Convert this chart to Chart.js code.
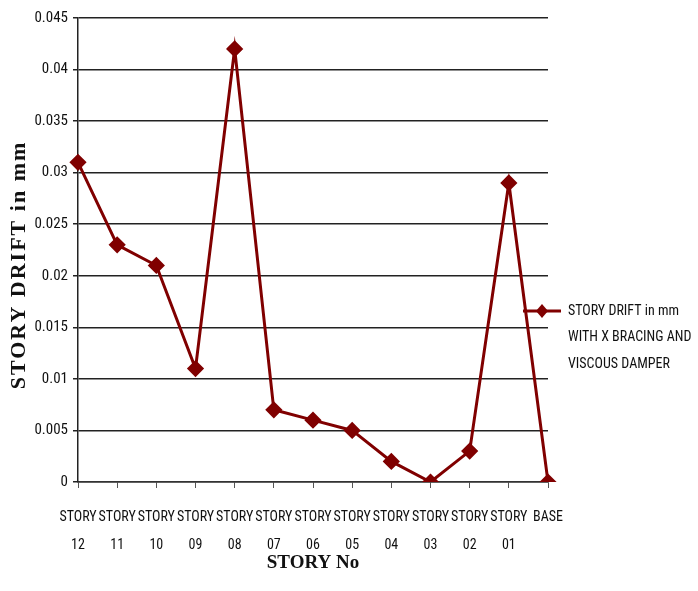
<!DOCTYPE html>
<html>
<head>
<meta charset="utf-8">
<title>Story Drift</title>
<script src="https://cdn.jsdelivr.net/npm/chart.js@4.4.1/dist/chart.umd.min.js"></script>
<style>
  html, body { margin: 0; padding: 0; background: #fff; }
  #wrap { width: 698px; height: 591px; position: relative; }
</style>
</head>
<body>
<div id="wrap"><canvas id="drift"></canvas></div>
<script>
const stories = [
  ["STORY", "12"], ["STORY", "11"], ["STORY", "10"], ["STORY", "09"],
  ["STORY", "08"], ["STORY", "07"], ["STORY", "06"], ["STORY", "05"],
  ["STORY", "04"], ["STORY", "03"], ["STORY", "02"], ["STORY", "01"],
  ["BASE", ""]
];
const driftValues = [0.031, 0.023, 0.021, 0.011, 0.042, 0.007, 0.006, 0.005, 0.002, 0, 0.003, 0.029, 0];
const yTickLabels = ["0", "0.005", "0.01", "0.015", "0.02", "0.025", "0.03", "0.035", "0.04", "0.045"];
const legendLines = ["STORY DRIFT in mm", "WITH X BRACING AND", "VISCOUS DAMPER"];
const yTitle = "STORY DRIFT in mm";

const lineColor = "#800000";
const narrow = "'Liberation Sans Narrow', 'Roboto Condensed', 'Liberation Sans', sans-serif";
const serif = "'Liberation Serif', 'DejaVu Serif', serif";

// legend on the right and the spaced-out y title, drawn by hand
const sideText = {
  id: "sideText",
  afterDraw(chart) {
    const ctx = chart.ctx;
    const x0 = 523, y0 = 311;
    ctx.save();
    ctx.strokeStyle = lineColor;
    ctx.lineWidth = 3;
    ctx.beginPath();
    ctx.moveTo(x0, y0);
    ctx.lineTo(x0 + 38, y0);
    ctx.stroke();
    ctx.fillStyle = lineColor;
    ctx.beginPath();
    ctx.moveTo(x0 + 19, y0 - 7);
    ctx.lineTo(x0 + 25, y0);
    ctx.lineTo(x0 + 19, y0 + 7);
    ctx.lineTo(x0 + 13, y0);
    ctx.closePath();
    ctx.fill();
    ctx.fillStyle = "#111";
    ctx.font = "14px " + narrow;
    ctx.textBaseline = "middle";
    legendLines.forEach((t, i) => ctx.fillText(t, 568, y0 + i * 26.5));

    ctx.translate(19, 265);
    ctx.rotate(-Math.PI / 2);
    ctx.font = "bold 22px " + serif;
    ctx.letterSpacing = "2px";
    ctx.textAlign = "center";
    ctx.fillText(yTitle, 0, 0);
    ctx.letterSpacing = "0px";
    ctx.restore();
  }
};

new Chart(document.getElementById("drift"), {
  type: "line",
  data: {
    labels: stories,
    datasets: [{
      label: legendLines.join(" "),
      data: driftValues,
      borderColor: lineColor,
      backgroundColor: lineColor,
      borderWidth: 3,
      pointStyle: "rectRot",
      pointRadius: 6.5,
      pointHoverRadius: 6.5,
      tension: 0
    }]
  },
  options: {
    responsive: true,
    maintainAspectRatio: false,
    animation: false,
    layout: { padding: { top: 18, right: 150, bottom: 0, left: 0 } },
    plugins: {
      legend: { display: false },
      tooltip: { enabled: false }
    },
    scales: {
      x: {
        offset: false,
        afterFit(scale) { scale.height = 109; },
        grid: { drawOnChartArea: false, color: "#555", tickLength: 6, lineWidth: 1 },
        border: { color: "#333", width: 1.5 },
        ticks: {
          color: "#111",
          font: { family: narrow, size: 14, lineHeight: 2 },
          padding: 15,
          maxRotation: 0,
          autoSkip: false
        },
        title: {
          display: true,
          text: "STORY No",
          color: "#111",
          font: { family: serif, size: 19, weight: "bold" },
          padding: { top: 0, bottom: 17 }
        }
      },
      y: {
        min: 0,
        max: 0.045,
        afterFit(scale) { scale.width = 78; },
        grid: { color: "#222", lineWidth: 1.5, tickLength: 5 },
        border: { color: "#222", width: 1.5 },
        ticks: {
          stepSize: 0.005,
          color: "#111",
          font: { family: narrow, size: 15 },
          padding: 5,
          callback: (v, i) => yTickLabels[i]
        }
      }
    }
  },
  plugins: [sideText]
});
</script>
</body>
</html>
